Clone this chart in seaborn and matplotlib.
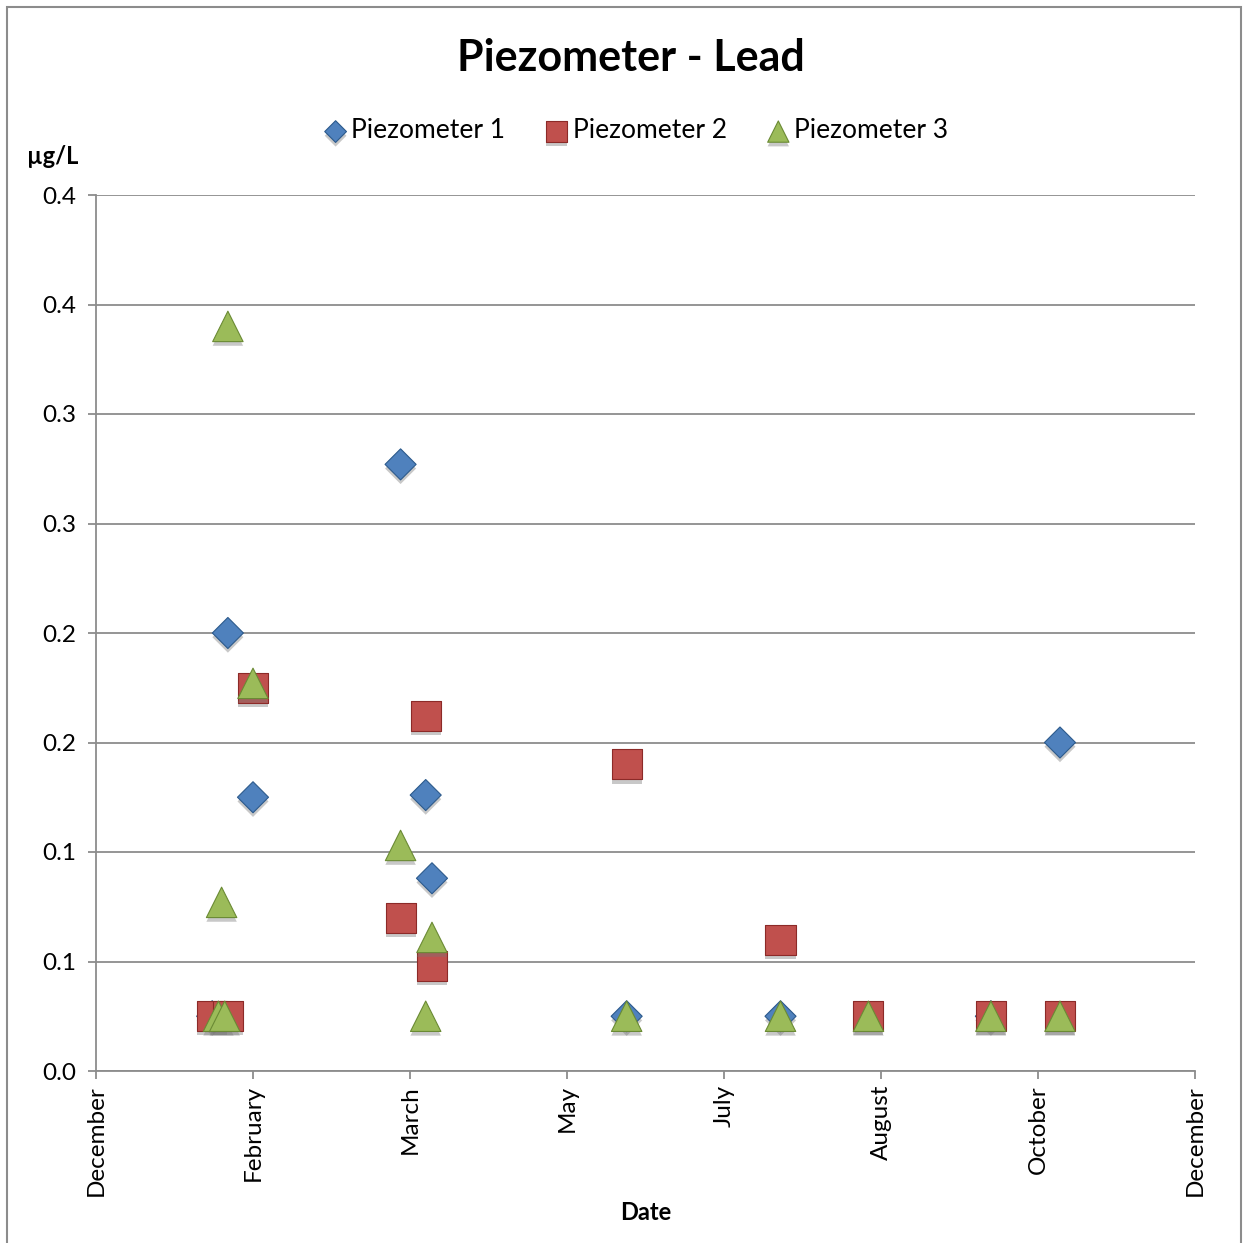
import matplotlib
matplotlib.use("Agg")
import numpy as np
import pandas as pd
import matplotlib.pyplot as plt
import matplotlib.dates as mdates
import matplotlib.patheffects as pe
from matplotlib.patches import Rectangle
import seaborn as sns

# Data (µg/L)
p1_dates = ["2010-01-24", "2010-01-29", "2010-02-06", "2010-03-25", "2010-04-02",
            "2010-04-04", "2010-06-05", "2010-07-24", "2010-09-29", "2010-10-21"]
p1_values = [0.025, 0.200, 0.125, 0.277, 0.126, 0.088, 0.025, 0.025, 0.025, 0.150]

p2_dates = ["2010-01-24", "2010-01-29", "2010-02-06", "2010-03-25", "2010-04-02",
            "2010-04-04", "2010-06-05", "2010-07-24", "2010-08-21", "2010-09-29",
            "2010-10-21"]
p2_values = [0.025, 0.025, 0.175, 0.070, 0.162, 0.048, 0.140, 0.060, 0.025, 0.025, 0.025]

p3_dates = ["2010-01-26", "2010-01-27", "2010-01-28", "2010-01-29", "2010-02-06",
            "2010-03-25", "2010-04-02", "2010-04-04", "2010-06-05", "2010-07-24",
            "2010-08-21", "2010-09-29", "2010-10-21"]
p3_values = [0.025, 0.077, 0.025, 0.340, 0.177, 0.103, 0.025, 0.061, 0.025, 0.025,
             0.025, 0.025, 0.025]

series_names = ["Piezometer 1", "Piezometer 2", "Piezometer 3"]
y_ticks = [0.0, 0.05, 0.10, 0.15, 0.20, 0.25, 0.30, 0.35, 0.40]
y_tick_labels = ["0.0", "0.1", "0.1", "0.2", "0.2", "0.3", "0.3", "0.4", "0.4"]
x_start = "2009-12-18"
x_step_days = 50
x_n_steps = 7

frames = []
for name, d, v in zip(series_names, [p1_dates, p2_dates, p3_dates],
                      [p1_values, p2_values, p3_values]):
    frames.append(pd.DataFrame({"Date": pd.to_datetime(d), "value": v, "series": name}))
df = pd.concat(frames, ignore_index=True)

sns.set_style("white")
plt.rcParams["font.family"] = ["Lato", "DejaVu Sans"]
plt.rcParams["text.color"] = "black"

fig = plt.figure(figsize=(12.43, 12.43), dpi=100)
ax = fig.add_axes([96 / 1243, 1 - 1071 / 1243, 1099 / 1243, 876 / 1243])

colors = {"Piezometer 1": "#4F81BD", "Piezometer 2": "#C0504D", "Piezometer 3": "#9BBB59"}
edges = {"Piezometer 1": "#2C5A8C", "Piezometer 2": "#8C2A28", "Piezometer 3": "#6A8A34"}
markers = {"Piezometer 1": "D", "Piezometer 2": "s", "Piezometer 3": "^"}
sizes = {"Piezometer 1": 250, "Piezometer 2": 470, "Piezometer 3": 480}

for name in series_names:
    sub = df[df["series"] == name]
    sns.scatterplot(data=sub, x="Date", y="value", ax=ax, marker=markers[name],
                    color=colors[name], edgecolor=edges[name], linewidth=0.8,
                    s=sizes[name], label=name, zorder=3,
                    path_effects=[pe.SimplePatchShadow(offset=(0, -3), shadow_rgbFace="#777777",
                                                       alpha=0.4), pe.Normal()])

x0 = pd.Timestamp(x_start)
xticks = [x0 + pd.Timedelta(days=x_step_days * i) for i in range(x_n_steps + 1)]
ax.set_xlim(xticks[0], xticks[-1])
ax.set_xticks(xticks)
ax.xaxis.set_major_formatter(mdates.DateFormatter("%B"))
ax.set_ylim(0, 0.4)
ax.set_yticks(y_ticks)
ax.set_yticklabels(y_tick_labels)

ax.grid(axis="y", color="#8c8c8c", linewidth=1.3)
ax.set_axisbelow(True)
for s in ["top", "right"]:
    ax.spines[s].set_visible(False)
for s in ["left", "bottom"]:
    ax.spines[s].set_color("#8c8c8c")
    ax.spines[s].set_linewidth(1.3)

ax.tick_params(axis="both", which="major", length=6, width=1.3, color="#8c8c8c",
               labelsize=17.5, labelcolor="black", direction="out")
ax.tick_params(axis="y", pad=8, left=True)
ax.tick_params(axis="x", bottom=True, pad=4)
plt.setp(ax.get_xticklabels(), rotation=90, va="top", ha="center")

ax.set_xlabel("Date", fontsize=17, fontweight="bold", labelpad=4, color="black")
ax.set_ylabel("")
fig.text(53 / 1243, 1 - 157 / 1243, "µg/L", fontsize=17, fontweight="bold",
         ha="center", va="center")

fig.text(631 / 1243, 1 - 58 / 1243, "Piezometer - Lead", fontsize=31, fontweight="bold",
         ha="center", va="center")

handles, labels = ax.get_legend_handles_labels()
ax.legend(handles, labels, loc="center", bbox_to_anchor=(636 / 1243, 1 - 131 / 1243),
          bbox_transform=fig.transFigure, ncol=3, frameon=False, fontsize=19,
          handlelength=0.9, handletextpad=0.15, columnspacing=1.5, markerscale=0.7)

fig.patches.append(Rectangle((7 / 1243, -0.01), 1234 / 1243, 1.01 - 7 / 1243,
                             transform=fig.transFigure, fill=False,
                             edgecolor="#8c8c8c", linewidth=1.5))

fig.savefig("out.png", dpi=100, facecolor="white")
